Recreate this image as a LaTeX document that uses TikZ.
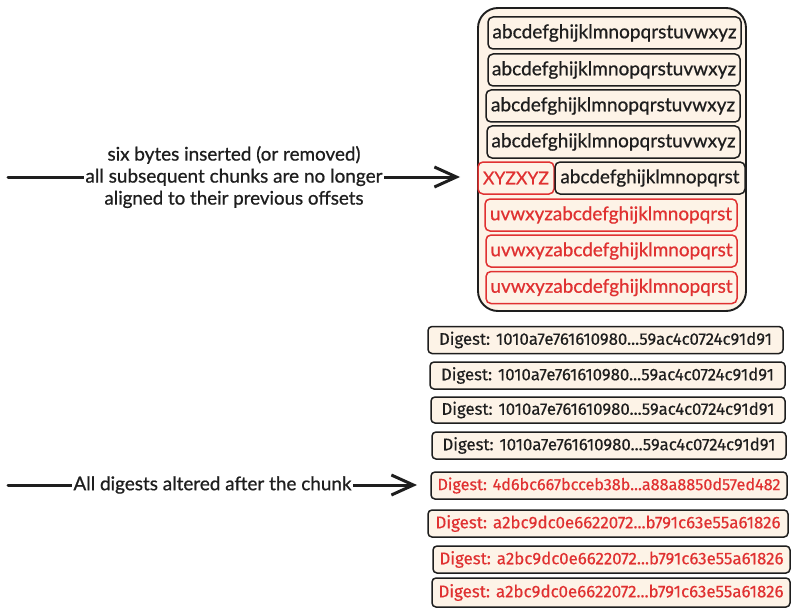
\documentclass[tikz,border=0pt]{standalone}
\usepackage{fontspec}
\setmainfont{Lato}[FakeBold=0.7]
\newfontfamily\digfont{Fira Sans}[FakeBold=0.4]
\usetikzlibrary{arrows.meta}
\definecolor{cream}{HTML}{FDF3E7}
\definecolor{exred}{HTML}{E03131}
\definecolor{exblack}{HTML}{1E1E1E}
\newcommand\fitto[2]{\resizebox{#1pt}{!}{#2}}
\begin{document}
\begin{tikzpicture}[x=1pt,y=-1pt,
  container/.style={draw=exblack, fill=cream, line width=1.9pt, rounded corners=20pt, inner sep=0pt},
  chunkbox/.style={draw=exblack, fill=cream, line width=1.5pt, rounded corners=5pt, inner sep=0pt, text=exblack, minimum height=32pt},
  redbox/.style={chunkbox, draw=exred, text=exred},
  digbox/.style={draw=exblack, fill=cream, line width=1.5pt, rounded corners=4pt, inner sep=0pt, text=exblack, minimum height=27pt, font=\digfont},
  reddig/.style={digbox, text=exred},
  arrowline/.style={draw=exblack, line width=3pt, line cap=round, -{Straight Barb[length=22pt,width=20pt,line width=3pt]}},
  lbl/.style={fill=white, inner xsep=1.5pt, inner ysep=1pt, text=exblack, align=center, font=\fontsize{16}{22}\selectfont}
]
\useasboundingbox (0,0) rectangle (800,615);
\fill[white] (0,0) rectangle (800,615);

% container of chunks
\node[container, minimum width=268pt, minimum height=303pt] (box) at (612,159.5) {};

\node[chunkbox, minimum width=253pt] (c1) at (614.5,33) {\fitto{244}{abcdefghijklmnopqrstuvwxyz}};
\node[chunkbox, minimum width=252pt] (c2) at (614,70) {\fitto{244}{abcdefghijklmnopqrstuvwxyz}};
\node[chunkbox, minimum width=254pt] (c3) at (613,106) {\fitto{244}{abcdefghijklmnopqrstuvwxyz}};
\node[chunkbox, minimum width=253pt] (c4) at (613.5,142) {\fitto{244}{abcdefghijklmnopqrstuvwxyz}};
\node[redbox, minimum width=76pt] (ins) at (516,178) {\fitto{66}{XYZXYZ}};
\node[chunkbox, minimum width=190pt] (c5) at (650,178) {\fitto{179}{abcdefghijklmnopqrst}};
\node[redbox, minimum width=252pt] (r6) at (611,215) {\fitto{242}{uvwxyzabcdefghijklmnopqrst}};
\node[redbox, minimum width=251pt] (r7) at (611.5,251) {\fitto{242}{uvwxyzabcdefghijklmnopqrst}};
\node[redbox, minimum width=251pt] (r8) at (611.5,287.5) {\fitto{242}{uvwxyzabcdefghijklmnopqrst}};

% digests
\node[digbox, minimum width=355pt] (d1) at (605.5,340) {\fitto{333}{Digest: 1010a7e761610980...59ac4c0724c91d91}};
\node[digbox, minimum width=355pt] (d2) at (607.5,375.5) {\fitto{333}{Digest: 1010a7e761610980...59ac4c0724c91d91}};
\node[digbox, minimum width=354pt, minimum height=26pt] (d3) at (608,410) {\fitto{333}{Digest: 1010a7e761610980...59ac4c0724c91d91}};
\node[digbox, minimum width=354pt] (d4) at (609,445.5) {\fitto{333}{Digest: 1010a7e761610980...59ac4c0724c91d91}};
\node[reddig, minimum width=356pt] (d5) at (609,485.5) {\fitto{343}{Digest: 4d6bc667bcceb38b...a88a8850d57ed482}};
\node[reddig, minimum width=360pt] (d6) at (608,523.5) {\fitto{345}{Digest: a2bc9dc0e6622072...b791c63e55a61826}};
\node[reddig, minimum width=357pt] (d7) at (611.5,559.5) {\fitto{344}{Digest: a2bc9dc0e6622072...b791c63e55a61826}};
\node[reddig, minimum width=358pt, minimum height=29pt] (d8) at (611,592.5) {\fitto{345}{Digest: a2bc9dc0e6622072...b791c63e55a61826}};

% arrows with labels
\coordinate (a1s) at (8,177);
\coordinate (a1e) at (460,177);
\draw[arrowline] (a1s) -- (a1e) node[lbl, pos=0.5] (l1) {\fitto{253}{six bytes inserted (or removed)}\\ \fitto{297}{all subsequent chunks are no longer}\\ \fitto{259}{aligned to their previous offsets}};

\coordinate (a2s) at (8,485);
\coordinate (a2e) at (417,485);
\draw[arrowline] (a2s) -- (a2e) node[lbl, pos=0.5] (l2) {\fitto{278}{All digests altered after the chunk}};
\end{tikzpicture}
\end{document}
